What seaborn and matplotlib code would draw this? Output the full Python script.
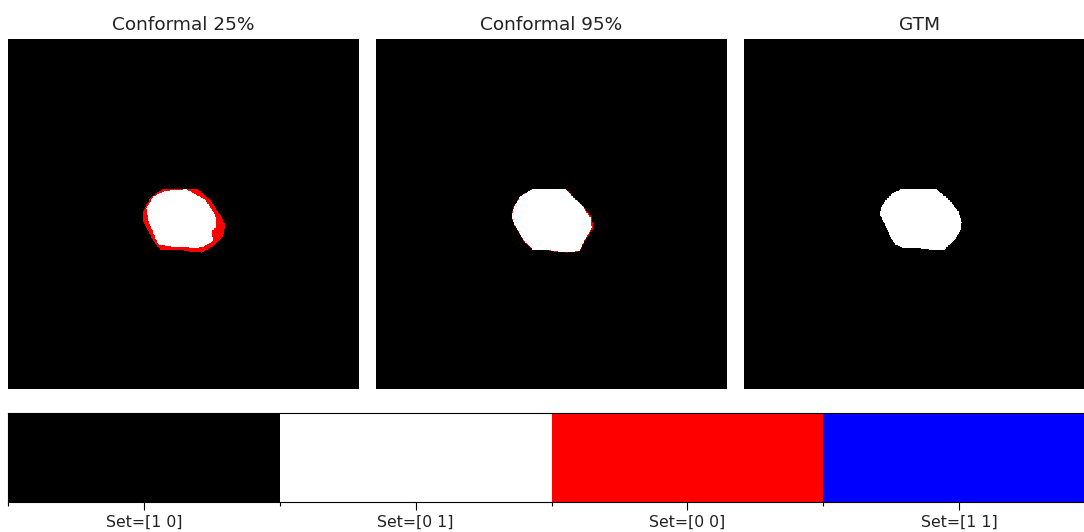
import numpy as np
import matplotlib
matplotlib.use("Agg")
import matplotlib.pyplot as plt
from matplotlib.colors import ListedColormap
from matplotlib.path import Path
import seaborn as sns

# Prediction-set encoding per pixel: index into SET_LABELS / SET_COLORS
SET_LABELS = ["Set=[1 0]", "Set=[0 1]", "Set=[0 0]", "Set=[1 1]"]
SET_COLORS = ["#000000", "#ffffff", "#ff0000", "#0000ff"]
PANEL_TITLES = ["Conformal 25%", "Conformal 95%", "GTM"]
SLICE = 256        # outline coordinates are given on a 256x256 slice
UPSAMPLE = 2       # masks are rasterised at 512x512

# Lesion outlines (x, y in pixel units of the 256x256 slice)
c25_outer_x = [113.3, 137.6, 147.3, 154.6, 158.3, 157.0, 149.7, 141.3, 120.5, 110.9, 106.0, 98.7, 98.7, 103.6]
c25_outer_y = [109.4, 109.4, 117.4, 128.4, 135.6, 144.2, 151.5, 156.3, 153.9, 153.9, 147.8, 133.2, 126.0, 116.2]
c25_inner_x = [115.7, 130.3, 143.7, 151.0, 152.2, 148.6, 149.7, 143.7, 137.6, 115.7, 109.6, 102.3, 101.2, 106.0]
c25_inner_y = [110.9, 110.1, 117.4, 128.4, 136.9, 140.5, 147.8, 151.5, 153.2, 151.5, 150.2, 133.2, 123.5, 115.0]

c95_outer_x = [114.7, 137.8, 142.7, 152.4, 157.3, 158.5, 152.4, 148.8, 139.1, 124.5, 114.7, 108.7, 101.4, 99.0, 100.1, 105.0]
c95_outer_y = [109.4, 109.4, 113.8, 123.5, 130.8, 138.1, 147.8, 155.1, 156.3, 154.6, 154.6, 149.0, 136.9, 130.8, 123.5, 115.0]
c95_inner_x = [114.7, 137.8, 142.4, 151.8, 156.4, 157.4, 151.8, 148.6, 139.1, 124.5, 114.7, 108.9, 101.6, 99.2, 100.3, 105.1]
c95_inner_y = [109.6, 109.6, 114.0, 123.8, 130.9, 138.1, 147.6, 154.8, 156.0, 154.4, 154.4, 148.8, 136.9, 130.8, 123.5, 115.1]

gtm_x = [116.2, 140.5, 146.0, 151.5, 156.3, 158.8, 157.8, 153.9, 149.5, 145.4, 128.4, 116.2, 110.1, 106.0, 102.8, 99.2, 100.2, 102.8, 108.9]
gtm_y = [109.4, 110.1, 114.5, 120.0, 126.0, 134.4, 140.0, 146.6, 151.0, 154.6, 153.2, 153.2, 150.2, 143.0, 135.7, 128.4, 123.0, 118.7, 112.5]


def polygon_mask(xs, ys):
    n = SLICE * UPSAMPLE
    yy, xx = np.mgrid[0:n, 0:n]
    pts = np.column_stack([xx.ravel() + 0.5, yy.ravel() + 0.5]) / UPSAMPLE
    return Path(np.column_stack([xs, ys])).contains_points(pts).reshape(n, n)


def set_map(outer, inner):
    """0 = background only, 1 = lesion only, 2 = empty set band."""
    out = polygon_mask(*outer)
    inn = polygon_mask(*inner) & out
    m = np.zeros(out.shape, dtype=int)
    m[out] = 2
    m[inn] = 1
    return m


maps = [
    set_map((c25_outer_x, c25_outer_y), (c25_inner_x, c25_inner_y)),
    set_map((c95_outer_x, c95_outer_y), (c95_inner_x, c95_inner_y)),
    polygon_mask(gtm_x, gtm_y).astype(int),
]

sns.set_theme(style="white")
plt.rcParams["font.family"] = ["DejaVu Sans"]

W, H = 1084, 532
fig = plt.figure(figsize=(W / 100, H / 100), dpi=100)
cmap = ListedColormap(SET_COLORS)

panel_left = [8, 376, 744]
for left, data, title in zip(panel_left, maps, PANEL_TITLES):
    ax = fig.add_axes([left / W, (H - 389) / H, 351 / W, 350 / H])
    sns.heatmap(data, ax=ax, cmap=cmap, vmin=-0.5, vmax=3.5, cbar=False,
                xticklabels=False, yticklabels=False, rasterized=True)
    ax.set_title(title, fontsize=13.3, pad=6.5, color="#222222")

# Discrete legend strip for the set encoding
cax = fig.add_axes([8 / W, (H - 502) / H, 1087 / W, 89 / H])
sns.heatmap(np.arange(len(SET_LABELS))[None, :], ax=cax, cmap=cmap,
            vmin=-0.5, vmax=3.5, cbar=False, xticklabels=False, yticklabels=False)
for s in cax.spines.values():
    s.set_visible(True)
    s.set_color("black")
    s.set_linewidth(0.8)
n = len(SET_LABELS)
cax.set_xticks(np.arange(n) + 0.5)
cax.set_xticklabels(SET_LABELS, fontsize=11.3, color="#222222")
cax.set_xticks(np.arange(n + 1), minor=True)
cax.tick_params(axis="x", which="major", bottom=True, length=5.5, width=0.8,
                color="black", pad=4, rotation=0)
cax.tick_params(axis="x", which="minor", bottom=True, length=3.2, width=0.8,
                color="black")
cax.set_yticks([])

fig.savefig("out.png", dpi=100)
